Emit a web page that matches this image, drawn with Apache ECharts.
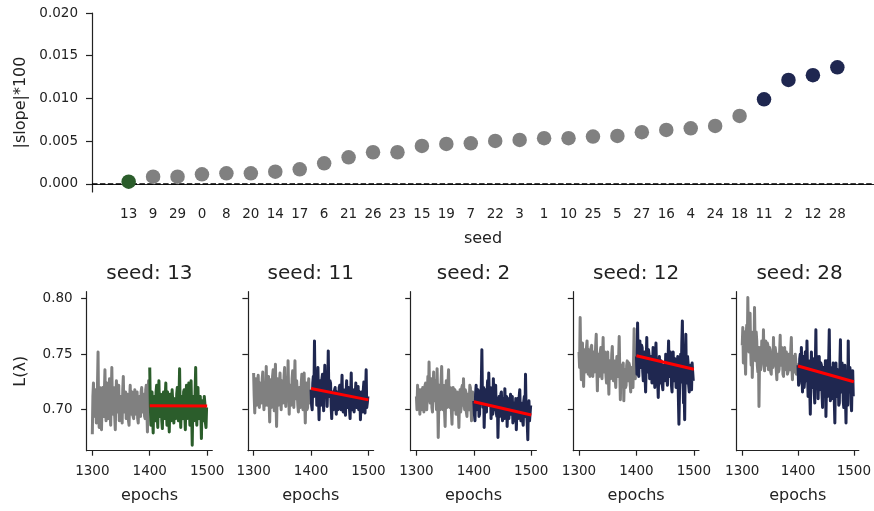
<!DOCTYPE html>
<html><head><meta charset="utf-8">
<script src="https://cdn.jsdelivr.net/npm/echarts@6/dist/echarts.min.js"></script>
<style>html,body{margin:0;padding:0;background:#fff}#c{width:874px;height:511px}</style>
</head><body><div id="c"></div>
<script>
// ---- data ----
const seeds = ['13','9','29','0','8','20','14','17','6','21','26','23','15','19','7','22','3','1','10','25','5','27','16','4','24','18','11','2','12','28'];
const slopes = [0.00027,0.00085,0.00085,0.00113,0.00125,0.00125,0.00144,0.00172,0.00242,0.00312,0.00371,0.00371,0.00445,0.00468,0.00476,0.00503,0.00515,0.00535,0.00535,0.00554,0.00562,0.00605,0.00632,0.00651,0.00679,0.00796,0.00991,0.01217,0.01272,0.01365];
const slopeTicks = [0, 0.005, 0.01, 0.015, 0.02];
const lossTicks = [0.70, 0.75, 0.80];
const epochTicks = [1300, 1400, 1500];
const flatSeed = '13';
const steepSeeds = ['11','2','12','28'];
const panelSeeds = ['13','11','2','12','28'];

const epochsEarly = [1300,1301,1302,1303,1304,1305,1306,1307,1308,1309,1310,1311,1312,1313,1314,1315,1316,1317,1318,1319,1320,1321,1322,1323,1324,1325,1326,1327,1328,1329,1330,1331,1332,1333,1334,1335,1336,1337,1338,1339,1340,1341,1342,1343,1344,1345,1346,1347,1348,1349,1350,1351,1352,1353,1354,1355,1356,1357,1358,1359,1360,1361,1362,1363,1364,1365,1366,1367,1368,1369,1370,1371,1372,1373,1374,1375,1376,1377,1378,1379,1380,1381,1382,1383,1384,1385,1386,1387,1388,1389,1390,1391,1392,1393,1394,1395,1396,1397,1398,1399];
const epochsLate = [1400,1401,1402,1403,1404,1405,1406,1407,1408,1409,1410,1411,1412,1413,1414,1415,1416,1417,1418,1419,1420,1421,1422,1423,1424,1425,1426,1427,1428,1429,1430,1431,1432,1433,1434,1435,1436,1437,1438,1439,1440,1441,1442,1443,1444,1445,1446,1447,1448,1449,1450,1451,1452,1453,1454,1455,1456,1457,1458,1459,1460,1461,1462,1463,1464,1465,1466,1467,1468,1469,1470,1471,1472,1473,1474,1475,1476,1477,1478,1479,1480,1481,1482,1483,1484,1485,1486,1487,1488,1489,1490,1491,1492,1493,1494,1495,1496,1497,1498,1499];
const fitEpochs = [1400, 1500];

const early13 = [0.678,0.712,0.724,0.694,0.700,0.718,0.716,0.688,0.690,0.722,0.752,0.696,0.684,0.720,0.712,0.690,0.682,0.708,0.720,0.698,
0.694,0.716,0.736,0.700,0.690,0.724,0.710,0.692,0.700,0.718,0.728,0.696,0.686,0.714,0.738,0.702,0.696,0.720,0.714,0.694,
0.682,0.708,0.726,0.698,0.700,0.716,0.722,0.690,0.690,0.712,0.710,0.696,0.688,0.718,0.730,0.700,0.698,0.712,0.716,0.692,
0.694,0.714,0.706,0.690,0.686,0.710,0.722,0.698,0.696,0.716,0.712,0.694,0.692,0.708,0.718,0.696,0.700,0.714,0.716,0.692,
0.688,0.710,0.712,0.696,0.694,0.716,0.720,0.700,0.698,0.712,0.714,0.694,0.692,0.718,0.722,0.700,0.680,0.710,0.726,0.704];
const late13 = [0.738,0.704,0.686,0.712,0.716,0.694,0.679,0.708,0.712,0.692,0.690,0.716,0.722,0.696,0.684,0.710,0.726,0.698,0.694,0.714,
0.710,0.690,0.683,0.706,0.716,0.696,0.692,0.712,0.724,0.700,0.686,0.716,0.712,0.694,0.680,0.704,0.714,0.690,0.696,0.718,
0.718,0.698,0.688,0.710,0.706,0.692,0.694,0.714,0.720,0.696,0.690,0.712,0.737,0.700,0.684,0.708,0.712,0.694,0.692,0.716,
0.718,0.696,0.682,0.710,0.722,0.692,0.698,0.714,0.724,0.700,0.686,0.712,0.726,0.698,0.668,0.704,0.712,0.690,0.692,0.716,
0.738,0.700,0.686,0.712,0.720,0.694,0.692,0.710,0.712,0.698,0.674,0.706,0.708,0.690,0.690,0.712,0.706,0.688,0.684,0.702];
const fit13 = [0.7036, 0.7034];

const early11 = [0.733,0.712,0.697,0.722,0.728,0.704,0.706,0.726,0.731,0.710,0.702,0.724,0.725,0.706,0.708,0.728,0.734,0.712,0.700,0.720,
0.722,0.704,0.739,0.714,0.704,0.726,0.730,0.708,0.689,0.716,0.727,0.702,0.710,0.730,0.736,0.714,0.699,0.722,0.741,0.708,
0.685,0.714,0.728,0.704,0.706,0.724,0.733,0.710,0.700,0.726,0.724,0.706,0.712,0.730,0.738,0.712,0.703,0.724,0.729,0.708,
0.744,0.716,0.696,0.720,0.722,0.704,0.708,0.728,0.735,0.712,0.702,0.722,0.744,0.710,0.710,0.726,0.727,0.704,0.698,0.718,
0.720,0.702,0.706,0.724,0.732,0.710,0.700,0.722,0.733,0.708,0.688,0.716,0.724,0.700,0.702,0.720,0.728,0.706,0.712,0.718];
const late11 = [0.718,0.704,0.700,0.724,0.730,0.712,0.762,0.720,0.712,0.730,0.704,0.722,0.738,0.710,0.691,0.716,0.726,0.704,0.708,0.728,
0.732,0.712,0.699,0.722,0.740,0.716,0.714,0.730,0.703,0.720,0.753,0.714,0.712,0.726,0.724,0.704,0.692,0.712,0.716,0.700,
0.702,0.718,0.720,0.704,0.696,0.716,0.714,0.700,0.706,0.720,0.722,0.702,0.700,0.716,0.731,0.706,0.698,0.718,0.712,0.700,
0.695,0.714,0.726,0.702,0.704,0.720,0.718,0.700,0.692,0.712,0.733,0.704,0.700,0.718,0.716,0.698,0.697,0.714,0.724,0.702,
0.705,0.718,0.721,0.700,0.699,0.716,0.691,0.706,0.716,0.698,0.702,0.718,0.725,0.704,0.697,0.716,0.736,0.702,0.706,0.712];
const fit11 = [0.7191, 0.7089];

const early2 = [0.712,0.700,0.722,0.706,0.705,0.718,0.696,0.712,0.718,0.700,0.702,0.720,0.716,0.698,0.708,0.722,0.724,0.704,0.700,0.716,
0.730,0.708,0.743,0.714,0.706,0.724,0.728,0.702,0.698,0.720,0.734,0.708,0.710,0.726,0.725,0.700,0.737,0.712,0.675,0.706,
0.722,0.700,0.704,0.726,0.739,0.712,0.700,0.722,0.718,0.698,0.685,0.714,0.726,0.702,0.706,0.724,0.736,0.710,0.702,0.720,
0.716,0.698,0.687,0.712,0.720,0.700,0.704,0.718,0.714,0.696,0.696,0.716,0.710,0.700,0.684,0.708,0.718,0.698,0.702,0.720,
0.722,0.704,0.728,0.708,0.700,0.718,0.716,0.698,0.694,0.714,0.712,0.700,0.704,0.722,0.720,0.702,0.690,0.710,0.716,0.704];
const late2 = [0.708,0.696,0.690,0.714,0.722,0.700,0.700,0.718,0.716,0.694,0.696,0.716,0.712,0.722,0.754,0.712,0.702,0.720,0.684,0.706,
0.718,0.700,0.698,0.716,0.726,0.704,0.733,0.710,0.704,0.720,0.692,0.708,0.714,0.696,0.728,0.706,0.700,0.716,0.722,0.698,
0.694,0.710,0.675,0.700,0.712,0.694,0.698,0.714,0.716,0.696,0.690,0.710,0.708,0.692,0.719,0.704,0.696,0.712,0.685,0.702,
0.710,0.692,0.692,0.708,0.714,0.696,0.700,0.712,0.688,0.704,0.706,0.690,0.694,0.710,0.682,0.700,0.710,0.692,0.698,0.712,
0.718,0.698,0.690,0.706,0.704,0.690,0.686,0.708,0.712,0.694,0.732,0.700,0.696,0.688,0.673,0.702,0.708,0.690,0.690,0.704];
const fit2 = [0.7072, 0.6952];

const early12 = [0.752,0.738,0.783,0.746,0.727,0.752,0.760,0.736,0.721,0.748,0.754,0.734,0.738,0.756,0.762,0.740,0.732,0.754,0.748,0.730,
0.740,0.756,0.758,0.736,0.730,0.750,0.752,0.734,0.744,0.758,0.768,0.738,0.717,0.744,0.750,0.730,0.736,0.752,0.756,0.734,
0.728,0.748,0.765,0.738,0.734,0.752,0.746,0.730,0.724,0.744,0.752,0.732,0.714,0.740,0.744,0.728,0.732,0.750,0.757,0.734,
0.726,0.744,0.742,0.728,0.720,0.740,0.748,0.732,0.730,0.746,0.766,0.734,0.709,0.736,0.740,0.722,0.724,0.742,0.708,0.730,
0.736,0.720,0.722,0.740,0.744,0.726,0.728,0.742,0.740,0.724,0.716,0.736,0.738,0.722,0.720,0.744,0.773,0.740,0.728,0.748];
const late12 = [0.748,0.732,0.778,0.744,0.730,0.756,0.762,0.738,0.740,0.758,0.756,0.734,0.726,0.750,0.752,0.730,0.716,0.742,0.765,0.736,
0.734,0.754,0.750,0.728,0.728,0.748,0.746,0.724,0.738,0.756,0.755,0.732,0.720,0.746,0.760,0.736,0.742,0.726,0.711,0.738,
0.748,0.724,0.726,0.744,0.744,0.722,0.718,0.740,0.740,0.726,0.730,0.750,0.750,0.728,0.722,0.744,0.762,0.730,0.734,0.752,
0.744,0.722,0.716,0.738,0.752,0.726,0.728,0.746,0.740,0.720,0.720,0.742,0.748,0.712,0.687,0.716,0.735,0.750,0.725,0.760,
0.780,0.732,0.706,0.722,0.691,0.740,0.768,0.728,0.724,0.748,0.742,0.722,0.716,0.738,0.740,0.720,0.718,0.742,0.734,0.726];
const fit12 = [0.7486, 0.7364];

const early28 = [0.758,0.774,0.742,0.762,0.770,0.748,0.732,0.766,0.776,0.754,0.801,0.768,0.752,0.778,0.787,0.756,0.740,0.770,0.729,0.752,
0.768,0.746,0.792,0.760,0.744,0.770,0.762,0.740,0.734,0.756,0.703,0.744,0.756,0.736,0.740,0.762,0.760,0.742,0.772,0.748,
0.735,0.756,0.762,0.740,0.742,0.760,0.758,0.736,0.738,0.756,0.754,0.734,0.732,0.752,0.746,0.738,0.765,0.742,0.740,0.756,
0.752,0.736,0.727,0.750,0.748,0.734,0.736,0.752,0.767,0.740,0.740,0.756,0.750,0.732,0.730,0.748,0.756,0.736,0.738,0.752,
0.746,0.732,0.734,0.750,0.750,0.736,0.740,0.754,0.765,0.738,0.727,0.746,0.748,0.734,0.736,0.750,0.744,0.732,0.738,0.742];
const late28 = [0.740,0.722,0.724,0.746,0.750,0.728,0.756,0.734,0.716,0.748,0.744,0.720,0.728,0.752,0.748,0.726,0.762,0.736,0.712,0.744,
0.738,0.718,0.696,0.730,0.752,0.724,0.720,0.746,0.744,0.716,0.706,0.740,0.772,0.722,0.730,0.748,0.710,0.736,0.748,0.718,
0.718,0.742,0.740,0.714,0.702,0.738,0.736,0.712,0.714,0.744,0.694,0.720,0.744,0.712,0.726,0.746,0.772,0.724,0.708,0.738,
0.738,0.710,0.716,0.742,0.732,0.708,0.688,0.730,0.742,0.714,0.712,0.736,0.730,0.704,0.706,0.740,0.763,0.716,0.720,0.742,
0.734,0.708,0.702,0.736,0.740,0.712,0.688,0.728,0.728,0.704,0.762,0.720,0.716,0.738,0.732,0.706,0.699,0.730,0.735,0.712];
const fit28 = [0.7394, 0.7252];

const panelEarly = [early13, early11, early2, early12, early28];
const panelLate = [late13, late11, late2, late12, late28];
const panelFit = [fit13, fit11, fit2, fit12, fit28];

// ---- styles / layout ----
const FONT = '"DejaVu Sans", sans-serif';
const TXT = '#222';
const GRAY = '#808080', GREEN = '#2b5d2b', NAVY = '#1f2750', RED = '#ff0000';
const panelLefts = [86.6, 247.9, 410.7, 573.3, 736.7];
const panelW = 125.7, panelTop = 291.7, panelH = 159;

function colorFor(s) {
  if (s === flatSeed) return GREEN;
  if (steepSeeds.indexOf(s) >= 0) return NAVY;
  return GRAY;
}
const zip = (xs, ys) => xs.map((x, i) => [x, ys[i]]);

const axisLineStyle = {color: '#222', width: 1.2};
const grids = [{left: 92, width: 782, top: 13, height: 179}];
const xAxes = [{
  type: 'category', gridIndex: 0,
  data: [''].concat(seeds).concat(['']),
  boundaryGap: true,
  axisLine: {lineStyle: axisLineStyle},
  axisTick: {alignWithLabel: true, length: 6, interval: (i, v) => v !== '', lineStyle: {color: '#222', width: 1.2}},
  axisLabel: {interval: 0, margin: 15, color: TXT, fontFamily: FONT, fontSize: 13.5},
  splitLine: {show: false},
  name: 'seed', nameLocation: 'middle', nameGap: 39,
  nameTextStyle: {color: TXT, fontFamily: FONT, fontSize: 16}
}];
const yAxes = [{
  type: 'value', gridIndex: 0, min: -0.00094, max: 0.020,
  axisLine: {show: true, lineStyle: axisLineStyle},
  axisTick: {show: true, length: 6, customValues: slopeTicks, lineStyle: {color: '#222', width: 1.2}},
  axisLabel: {customValues: slopeTicks, margin: 14, color: TXT, fontFamily: FONT, fontSize: 13.5, formatter: v => v.toFixed(3)},
  splitLine: {show: false},
  name: '|slope|*100', nameLocation: 'middle', nameGap: 62,
  nameTextStyle: {color: TXT, fontFamily: FONT, fontSize: 16}
}];
const series = [{
  type: 'scatter', xAxisIndex: 0, yAxisIndex: 0, symbolSize: 14.5, z: 3,
  data: slopes.map((v, i) => ({value: [i + 1, v], itemStyle: {color: colorFor(seeds[i]), opacity: 1}})),
  markLine: {
    z: 1, silent: true, symbol: ['none', 'none'], label: {show: false},
    lineStyle: {color: '#000', width: 1.5, type: [5.5, 2.4]},
    data: [{yAxis: 0}]
  }
}];
const graphics = [];

panelSeeds.forEach((s, p) => {
  const gi = p + 1;
  grids.push({left: panelLefts[p], width: panelW, top: panelTop, height: panelH});
  xAxes.push({
    type: 'value', gridIndex: gi, min: 1290.05, max: 1508.95,
    axisLine: {lineStyle: axisLineStyle},
    axisTick: {show: true, length: 5, customValues: epochTicks, lineStyle: {color: '#222', width: 1.2}},
    axisLabel: {customValues: epochTicks, margin: 14, color: TXT, fontFamily: FONT, fontSize: 13.5, formatter: v => String(v)},
    splitLine: {show: false},
    name: 'epochs', nameLocation: 'middle', nameGap: 37,
    nameTextStyle: {color: TXT, fontFamily: FONT, fontSize: 16}
  });
  yAxes.push({
    type: 'value', gridIndex: gi, min: 0.6631, max: 0.8063,
    axisLine: {show: true, lineStyle: axisLineStyle},
    axisTick: {show: true, length: 5.5, customValues: lossTicks, lineStyle: {color: '#222', width: 1.2}},
    axisLabel: {show: p === 0, customValues: lossTicks, margin: 14, color: TXT, fontFamily: FONT, fontSize: 13.5, formatter: v => v.toFixed(2)},
    splitLine: {show: false},
    name: p === 0 ? 'L(λ)' : '', nameLocation: 'middle', nameGap: 58,
    nameTextStyle: {color: TXT, fontFamily: FONT, fontSize: 16}
  });
  const c = colorFor(s);
  series.push({type: 'line', xAxisIndex: gi, yAxisIndex: gi, showSymbol: false, symbol: 'none', z: 2,
    lineStyle: {color: GRAY, width: 3, join: 'round'}, data: zip(epochsEarly, panelEarly[p])});
  series.push({type: 'line', xAxisIndex: gi, yAxisIndex: gi, showSymbol: false, symbol: 'none', z: 3,
    lineStyle: {color: c, width: 3, join: 'round'}, data: zip(epochsLate, panelLate[p])});
  series.push({type: 'line', xAxisIndex: gi, yAxisIndex: gi, showSymbol: false, symbol: 'none', z: 4,
    lineStyle: {color: RED, width: 3}, data: zip(fitEpochs, panelFit[p])});
  graphics.push({type: 'text', x: panelLefts[p] + panelW / 2, y: 274,
    style: {text: 'seed: ' + s, fill: TXT, font: '20px ' + FONT, align: 'center', verticalAlign: 'middle'}});
});

const chart = echarts.init(document.getElementById('c'), null, {renderer: 'canvas'});
chart.setOption({
  animation: false,
  backgroundColor: '#fff',
  grid: grids, xAxis: xAxes, yAxis: yAxes, series: series, graphic: graphics
});
</script></body></html>
